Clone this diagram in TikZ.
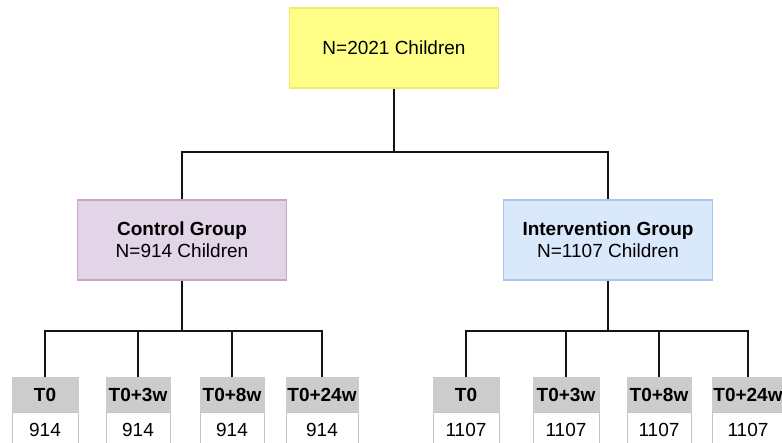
\documentclass[tikz,border=0pt]{standalone}
\usepackage{fontspec}
\setmainfont{Liberation Sans}
\definecolor{yfill}{HTML}{FFFF88}
\definecolor{ydraw}{HTML}{EDED6A}
\definecolor{pfill}{HTML}{E1D5E7}
\definecolor{pdraw}{HTML}{CFA3C9}
\definecolor{bfill}{HTML}{DAE8FC}
\definecolor{bdraw}{HTML}{A9C4EB}
\definecolor{hfill}{HTML}{CCCCCC}
\definecolor{vdraw}{HTML}{C4C4C4}
\begin{document}
\begin{tikzpicture}[x=1pt,y=-1pt,
  every node/.style={font=\fontsize{19}{22}\selectfont, inner sep=0pt},
  bigbox/.style={rectangle, minimum width=209pt, minimum height=80pt, line width=1.5pt, align=center},
  hcell/.style={rectangle, fill=hfill, draw=hfill, line width=1pt, minimum height=34pt, font=\fontsize{19}{22}\selectfont\bfseries},
  vcell/.style={rectangle, fill=white, draw=vdraw, line width=1pt, minimum height=34pt},
  conn/.style={line width=2pt, black!92}
]
\useasboundingbox (0,0) rectangle (782,443);
\node[bigbox, fill=yfill, draw=ydraw] (top) at (394,48) {N=2021 Children};
\node[bigbox, fill=pfill, draw=pdraw] (ctrl) at (182,240) {\textbf{Control Group}\\N=914 Children};
\node[bigbox, fill=bfill, draw=bdraw] (intv) at (608,240) {\textbf{Intervention Group}\\N=1107 Children};

% control cells
\node[hcell, minimum width=66pt] (l1h) at (45,395) {T0};
\node[vcell, minimum width=66pt, anchor=north] (l1v) at (l1h.south) {914};
\node[hcell, minimum width=64pt] (l2h) at (138,395) {T0+3w};
\node[vcell, minimum width=64pt, anchor=north] (l2v) at (l2h.south) {914};
\node[hcell, minimum width=64pt] (l3h) at (232,395) {T0+8w};
\node[vcell, minimum width=64pt, anchor=north] (l3v) at (l3h.south) {914};
\node[hcell, minimum width=72pt] (l4h) at (322,395) {T0+24w};
\node[vcell, minimum width=72pt, anchor=north] (l4v) at (l4h.south) {914};

% intervention cells
\node[hcell, minimum width=66pt] (r1h) at (466,395) {T0};
\node[vcell, minimum width=66pt, anchor=north] (r1v) at (r1h.south) {1107};
\node[hcell, minimum width=66pt] (r2h) at (566,395) {T0+3w};
\node[vcell, minimum width=66pt, anchor=north] (r2v) at (r2h.south) {1107};
\node[hcell, minimum width=64pt] (r3h) at (659,395) {T0+8w};
\node[vcell, minimum width=64pt, anchor=north] (r3v) at (r3h.south) {1107};
\node[hcell, minimum width=72pt] (r4h) at (748,395) {T0+24w};
\node[vcell, minimum width=72pt, anchor=north] (r4v) at (r4h.south) {1107};

% connectors
\coordinate (b1) at (394,152);
\draw[conn] (top.south) -- (b1);
\draw[conn] (ctrl.north) |- (b1) -| (intv.north);

\coordinate (b2) at (182,331);
\draw[conn] (ctrl.south) -- (b2);
\draw[conn] (l1h.north) |- (b2) -| (l4h.north);
\draw[conn] (l2h.north) -- (l2h.north |- b2);
\draw[conn] (l3h.north) -- (l3h.north |- b2);

\coordinate (b3) at (608,331);
\draw[conn] (intv.south) -- (b3);
\draw[conn] (r1h.north) |- (b3) -| (r4h.north);
\draw[conn] (r2h.north) -- (r2h.north |- b3);
\draw[conn] (r3h.north) -- (r3h.north |- b3);
\end{tikzpicture}
\end{document}
